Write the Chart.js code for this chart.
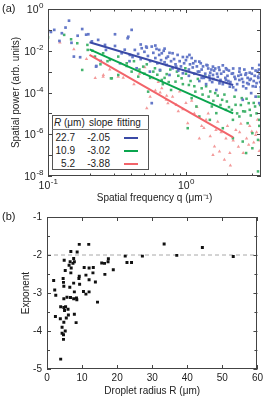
<!DOCTYPE html>
<html>
<head>
<meta charset="utf-8">
<script src="https://cdn.jsdelivr.net/npm/chart.js@4.4.0/dist/chart.umd.min.js"></script>
<style>
body{margin:0;background:#fff;font-family:"Liberation Sans",Arial,sans-serif;color:#222}
#wrap{position:relative;width:266px;height:397px;overflow:hidden}
canvas{position:absolute;left:0}
.tag{position:absolute;left:2px;font-size:11px;z-index:2}
#tbl{position:absolute;left:52px;top:115px;width:95px;height:53px;border:1px solid #555;background:#fff;z-index:2}
.t{position:absolute;font-size:10px;line-height:12px;white-space:nowrap;z-index:3}
.sw{position:absolute;height:2px;z-index:3}
</style>
</head>
<body>
<div id="wrap">
  <canvas id="chartA" width="266" height="206" style="top:0"></canvas>
  <canvas id="chartB" width="266" height="191" style="top:206px"></canvas>
  <div class="tag" style="top:2px">(a)</div>
  <div class="tag" style="top:210px">(b)</div>
  <div id="tbl"></div>
</div>
<script>
// (a) spatial power spectra: [q (um^-1), log10 power]
var bluePts = [
  [0.100,-1.04],[0.105,-1.10],[0.111,-1.00],[0.121,-1.53],[0.126,-1.16],[0.134,-0.89],[0.142,-0.56],[0.148,-1.62],
  [0.154,-2.28],[0.164,-1.28],[0.171,-2.31],[0.177,-0.96],[0.189,-1.23],[0.196,-1.21],[0.208,-1.55],[0.223,-2.76],
  [0.224,-2.73],[0.231,-1.48],[0.241,-2.49],[0.259,-1.72],[0.263,-1.96],[0.306,-1.21],[0.306,-1.77],[0.333,-2.60],
  [0.342,-2.12],[0.36,-1.95],[0.378,-1.40],[0.382,-1.33],[0.39,-2.50],[0.392,-2.20],[0.404,-1.00],[0.41,-2.30],
  [0.426,-1.96],[0.439,-2.84],[0.45,-2.15],[0.47,-2.40],[0.47,-1.70],[0.478,-1.88],[0.50,-2.05],[0.515,-1.80],
  [0.52,-1.85],[0.53,-2.25],[0.548,-3.00],[0.55,-2.50],[0.565,-1.80],[0.565,-4.51],[0.58,-2.10],[0.60,-2.35],
  [0.60,-1.75],[0.612,-1.91],[0.62,-2.60],[0.64,-2.20],[0.64,-1.96],[0.648,-2.92],[0.66,-2.45],[0.668,-2.12],
  [0.69,-2.00],[0.70,-2.55],[0.70,-1.90],[0.72,-2.35],[0.725,-2.68],[0.74,-2.28],[0.76,-2.10],[0.76,-3.16],
  [0.78,-2.50],[0.80,-2.84],[0.80,-2.12],[0.82,-2.40],[0.84,-2.65],[0.85,-2.76],[0.87,-2.20],[0.88,-2.95],
  [0.90,-2.50],[0.92,-2.75],[0.95,-2.30],[0.95,-3.08],[0.97,-2.60],[1.00,-2.45],[1.02,-2.30],[1.05,-2.90],
  [1.05,-3.20],[1.06,-2.20],[1.07,-2.65],[1.10,-2.35],[1.12,-2.80],[1.13,-2.60],[1.15,-3.10],[1.17,-2.50],
  [1.20,-2.75],[1.22,-3.00],[1.25,-2.52],[1.25,-3.00],[1.25,-3.45],[1.28,-2.60],[1.30,-2.90],[1.30,-3.30],
  [1.33,-2.75],[1.35,-3.30],[1.38,-3.10],[1.40,-3.60],[1.41,-2.68],[1.43,-2.70],[1.45,-2.85],[1.48,-3.20],
  [1.49,-3.40],[1.50,-3.05],[1.53,-2.90],[1.55,-3.50],[1.57,-2.76],[1.57,-3.16],[1.58,-3.35],[1.60,-2.95],
  [1.63,-2.85],[1.66,-3.88],[1.68,-3.10],[1.70,-3.25],[1.73,-2.80],[1.75,-2.92],[1.75,-3.56],[1.78,-3.40],
  [1.80,-3.10],[1.85,-2.70],[1.85,-3.60],[1.88,-3.00],[1.93,-3.30],[1.95,-2.84],[1.95,-3.40],[1.98,-2.90],
  [2.00,-3.20],[2.03,-3.45],[2.05,-2.95],[2.08,-3.72],[2.10,-3.50],[2.15,-3.10],[2.19,-3.08],[2.20,-2.85],
  [2.20,-3.75],[2.25,-3.25],[2.28,-3.35],[2.30,-3.88],[2.35,-3.60],[2.40,-3.20],[2.44,-3.00],[2.44,-3.40],
  [2.45,-2.85],[2.50,-3.15],[2.55,-3.35],[2.58,-4.35],[2.60,-3.50],[2.60,-3.70],[2.65,-2.90],[2.70,-3.15],
  [2.73,-3.08],[2.73,-3.80],[2.78,-3.55],[2.80,-3.30],[2.85,-3.60],[2.90,-3.40],[2.90,-3.05],[2.95,-3.35],
  [2.97,-4.03],[3.00,-3.10],[3.03,-2.84],[3.05,-3.70],[3.10,-3.45],[3.15,-3.20],[3.20,-3.72],[3.20,-4.20],
  [3.20,-2.95],[3.25,-3.55],[3.30,-3.00],[3.33,-3.24],[3.35,-3.30],[3.38,-2.90],[3.40,-2.68],[3.40,-4.51],
  [3.42,-3.10],[3.45,-3.50],[3.48,-3.75],[3.50,-3.90]
];
var greenPts = [
  [0.100,-1.36],[0.131,-1.24],[0.147,-1.45],[0.163,-1.64],[0.177,-2.92],[0.193,-1.72],[0.194,-1.96],[0.21,-2.00],
  [0.219,-2.28],[0.24,-2.65],[0.251,-2.12],[0.27,-2.50],[0.281,-2.44],[0.286,-3.32],[0.29,-3.32],[0.323,-2.28],
  [0.323,-3.16],[0.372,-2.60],[0.372,-2.73],[0.404,-3.00],[0.42,-2.50],[0.451,-3.24],[0.46,-2.90],[0.49,-2.76],
  [0.50,-3.10],[0.52,-2.65],[0.532,-3.96],[0.55,-3.30],[0.58,-3.00],[0.596,-2.84],[0.62,-3.15],[0.65,-2.95],
  [0.668,-3.40],[0.68,-3.60],[0.70,-3.30],[0.725,-3.12],[0.75,-3.50],[0.77,-2.90],[0.78,-3.88],[0.84,-3.48],
  [0.86,-3.00],[0.88,-3.20],[0.93,-3.32],[0.95,-3.60],[0.99,-2.84],[1.00,-3.10],[1.03,-5.71],[1.05,-3.64],
  [1.08,-3.45],[1.10,-4.27],[1.15,-3.70],[1.17,-3.96],[1.19,-4.67],[1.22,-3.35],[1.25,-5.15],[1.30,-3.80],
  [1.32,-4.10],[1.38,-3.24],[1.40,-3.70],[1.46,-4.20],[1.49,-5.31],[1.50,-3.95],[1.54,-4.67],[1.58,-4.40],
  [1.63,-4.03],[1.66,-4.99],[1.70,-4.15],[1.78,-4.60],[1.83,-4.35],[1.85,-5.71],[1.90,-4.10],[1.95,-4.83],
  [1.98,-4.43],[2.05,-4.70],[2.15,-4.83],[2.19,-5.31],[2.19,-6.19],[2.25,-4.20],[2.29,-4.59],[2.35,-5.00],
  [2.44,-5.15],[2.50,-4.60],[2.54,-4.27],[2.58,-6.35],[2.60,-4.90],[2.68,-4.91],[2.73,-6.90],[2.75,-4.30],
  [2.80,-5.47],[2.85,-4.51],[2.90,-4.83],[2.95,-5.10],[3.03,-5.95],[3.03,-6.67],[3.10,-4.50],[3.17,-4.67],
  [3.25,-5.00],[3.33,-6.27],[3.33,-7.78],[3.36,-4.20],[3.40,-5.31],[3.40,-5.60],[3.45,-4.60]
];
var redPts = [
  [0.122,-1.61],[0.154,-1.93],[0.19,-2.40],[0.22,-3.30],[0.251,-3.24],[0.252,-3.16],[0.28,-2.90],[0.323,-3.24],
  [0.351,-3.29],[0.42,-3.60],[0.46,-3.10],[0.503,-2.79],[0.52,-4.75],[0.55,-4.20],[0.58,-3.32],[0.60,-3.90],
  [0.63,-3.50],[0.65,-4.00],[0.668,-3.80],[0.72,-4.35],[0.725,-4.16],[0.74,-4.51],[0.80,-4.20],[0.85,-4.60],
  [0.88,-4.90],[0.90,-3.95],[0.95,-4.80],[1.00,-4.50],[1.03,-5.47],[1.10,-4.40],[1.15,-5.00],[1.20,-4.70],
  [1.25,-6.20],[1.30,-5.60],[1.35,-5.70],[1.40,-5.31],[1.45,-5.00],[1.50,-6.10],[1.57,-6.99],[1.61,-6.59],
  [1.65,-5.80],[1.70,-5.40],[1.75,-6.83],[1.80,-5.90],[1.90,-7.22],[1.95,-6.20],[2.00,-5.60],[2.08,-6.90],
  [2.10,-7.50],[2.20,-6.30],[2.30,-5.80],[2.40,-6.60],[2.45,-5.90],[2.50,-5.50],[2.60,-6.90],[2.75,-6.20],
  [2.85,-6.50],[2.90,-5.60],[3.00,-5.87],[3.10,-6.40],[3.20,-6.03],[3.25,-5.90],[3.30,-5.30],[3.40,-6.80],
  [3.45,-6.30],[3.50,-5.55]
];
// fitted power laws, drawn between two q values
var fitQ = [0.2, 2.2];
var fitBlue = [2.55e-2, 2.3e-4];
var fitGreen = [1.17e-2, 1.0e-5];
var fitRed = [6.3e-3, 7.0e-7];
// table in panel (a)
var radii = ['22.7', '10.9', '5.2'];
var slopes = ['-2.05', '-3.02', '-3.88'];
var fitColors = ['#3a4aa6', '#0aa54e', '#f2646a'];
var qTicks = [0.1, 0.2, 0.3, 0.4, 0.5, 0.6, 0.7, 0.8, 0.9, 1, 2, 3];
var qLabelled = [0.1, 1];
var pTicks = [1e-8, 1e-7, 1e-6, 1e-5, 1e-4, 1e-3, 1e-2, 1e-1, 1];
var pLabelled = [1e-8, 1e-6, 1e-4, 1e-2, 1];

// (b) exponent vs droplet radius
var dropR = [
  9.2, 11.9, 6.8, 8.6, 4.9, 6.6, 7.6, 7.8, 6.3, 7.4, 5.2, 6.8, 6.9, 10.6, 12.0, 13.2,
  15.6, 16.4, 17.5, 17.4, 18.9, 16.5, 13.1, 9.2, 9.1, 11.1, 1.9, 4.6, 4.7, 7.6, 9.3, 12.0,
  13.8, 4.8, 6.5, 2.2, 22.3, 22.8, 24.1, 27.2, 33.4, 37.0, 44.3, 53.1, 2.5, 7.8, 10.4, 11.1,
  12.0, 5.7, 4.8, 6.7, 7.6, 8.4, 8.5, 14.4, 3.9, 4.8, 5.3, 6.0, 5.0, 2.4, 3.8, 6.1,
  7.8, 5.5, 4.8, 8.3, 4.3, 5.2, 4.3, 4.7, 4.7, 3.9
];
var dropExp = [
  -1.72, -1.72, -1.91, -1.92, -2.14, -2.18, -2.09, -2.18, -2.27, -2.22, -2.41, -2.47, -2.34, -2.33, -2.34, -2.33,
  -2.21, -2.22, -2.10, -2.18, -2.39, -2.51, -2.47, -2.56, -2.62, -2.53, -2.67, -2.62, -2.72, -2.74, -2.77, -2.65,
  -2.71, -2.82, -2.85, -2.92, -2.03, -2.20, -2.20, -2.03, -1.71, -2.01, -1.80, -2.04, -3.06, -2.97, -2.96, -3.03,
  -2.97, -3.11, -3.15, -3.12, -3.15, -3.13, -3.18, -3.24, -3.36, -3.38, -3.36, -3.43, -3.46, -3.62, -3.68, -3.58,
  -3.56, -3.66, -3.77, -3.78, -3.90, -4.00, -4.06, -4.10, -4.22, -4.74
];
var refR = [0, 60];
var refExp = [-2, -2];

var FONT = "'Liberation Sans', Arial, sans-serif";
Chart.defaults.font.family = FONT;
Chart.defaults.font.size = 10;
Chart.defaults.color = '#222';
Chart.defaults.animation = false;

function isIn(list, v) {
  return list.some(function(w) { return Math.abs(w - v) < v * 1e-6; });
}

// box frame with inward ticks on all four sides
function frameTicks(xMajor, yMajor) {
  return {
    id: 'frameTicks',
    afterDatasetsDraw: function(chart) {
      var ctx = chart.ctx, a = chart.chartArea;
      ctx.save();
      ctx.strokeStyle = '#444';
      ctx.lineWidth = 1;
      ctx.beginPath();
      chart.scales.x.ticks.forEach(function(t) {
        var p = Math.round(chart.scales.x.getPixelForValue(t.value)) + 0.5;
        var len = xMajor(t.value) ? 4 : 2.5;
        ctx.moveTo(p, a.bottom); ctx.lineTo(p, a.bottom - len);
        ctx.moveTo(p, a.top); ctx.lineTo(p, a.top + len);
      });
      chart.scales.y.ticks.forEach(function(t) {
        var p = Math.round(chart.scales.y.getPixelForValue(t.value)) + 0.5;
        var len = yMajor(t.value) ? 4 : 3;
        ctx.moveTo(a.left, p); ctx.lineTo(a.left + len, p);
        ctx.moveTo(a.right, p); ctx.lineTo(a.right - len, p);
      });
      ctx.stroke();
      ctx.strokeRect(Math.round(a.left) + 0.5, Math.round(a.top) + 0.5,
        Math.round(a.right - a.left) - 1, Math.round(a.bottom - a.top) - 1);
      ctx.restore();
    }
  };
}

// powers of ten written as 10 with a raised exponent
var powLabels = {
  id: 'powLabels',
  afterDraw: function(chart) {
    var ctx = chart.ctx, a = chart.chartArea;
    function label(e, xRef, yBase, anchor) {
      ctx.font = '10.5px ' + FONT;
      var wb = ctx.measureText('10').width;
      ctx.font = '8px ' + FONT;
      var we = ctx.measureText(String(e)).width;
      var x0 = anchor === 'right' ? xRef - wb - we : xRef - (wb + we) / 2;
      ctx.font = '10.5px ' + FONT;
      ctx.fillText('10', x0, yBase);
      ctx.font = '8px ' + FONT;
      ctx.fillText(String(e), x0 + wb + 0.5, yBase - 5);
    }
    ctx.save();
    ctx.fillStyle = '#222';
    ctx.textBaseline = 'alphabetic';
    ctx.textAlign = 'left';
    chart.scales.x.ticks.forEach(function(t) {
      if (!isIn(qLabelled, t.value)) return;
      label(Math.round(Math.log10(t.value)), chart.scales.x.getPixelForValue(t.value), a.bottom + 13, 'center');
    });
    chart.scales.y.ticks.forEach(function(t) {
      if (!isIn(pLabelled, t.value)) return;
      label(Math.round(Math.log10(t.value)), a.left - 5, chart.scales.y.getPixelForValue(t.value) + 4, 'right');
    });
    ctx.restore();
  }
};

function toXY(pts) {
  return pts.map(function(p) { return {x: p[0], y: Math.pow(10, p[1])}; });
}
function fitLine(vals, color) {
  return {
    data: fitQ.map(function(q, i) { return {x: q, y: vals[i]}; }),
    showLine: true, borderColor: color, borderWidth: 2, pointRadius: 0
  };
}

new Chart(document.getElementById('chartA'), {
  type: 'scatter',
  data: {
    datasets: [
      fitLine(fitBlue, fitColors[0]),
      fitLine(fitGreen, fitColors[1]),
      fitLine(fitRed, fitColors[2]),
      {data: toXY(bluePts), pointStyle: 'rect', pointRadius: 1.9, pointBorderWidth: 0, backgroundColor: '#6478c8'},
      {data: toXY(greenPts), pointStyle: 'rect', pointRadius: 1.8, pointBorderWidth: 0, backgroundColor: '#45b46e'},
      {data: toXY(redPts), pointStyle: 'triangle', pointRadius: 2, pointBorderWidth: 0, backgroundColor: '#f39a9a'}
    ]
  },
  options: {
    responsive: false,
    layout: {padding: {left: 0, right: 5, top: 9, bottom: 0}},
    plugins: {legend: {display: false}, tooltip: {enabled: false}},
    scales: {
      x: {
        type: 'logarithmic', min: 0.1, max: 3.5,
        afterBuildTicks: function(s) { s.ticks = qTicks.map(function(v) { return {value: v}; }); },
        afterFit: function(s) { s.height = 30; },
        grid: {display: false, drawTicks: false},
        border: {display: false},
        ticks: {display: false},
        title: {display: true, text: 'Spatial frequency q (\u03bcm\u207b\u00b9)', padding: {top: 0, bottom: 2}}
      },
      y: {
        type: 'logarithmic', min: 1e-8, max: 1,
        afterBuildTicks: function(s) { s.ticks = pTicks.map(function(v) { return {value: v}; }); },
        afterFit: function(s) { s.width = 48; },
        grid: {display: false, drawTicks: false},
        border: {display: false},
        ticks: {display: false},
        title: {display: true, text: 'Spatial power (arb. units)', padding: {top: 10, bottom: 0}}
      }
    }
  },
  plugins: [
    frameTicks(function(v) { return isIn(qLabelled, v); }, function() { return true; }),
    powLabels
  ]
});

new Chart(document.getElementById('chartB'), {
  type: 'scatter',
  data: {
    datasets: [
      {data: dropR.map(function(r, i) { return {x: r, y: dropExp[i]}; }),
        pointStyle: 'rect', pointRadius: 2.1, pointBorderWidth: 0, backgroundColor: '#111'},
      {data: refR.map(function(r, i) { return {x: r, y: refExp[i]}; }),
        showLine: true, borderColor: '#a8a8a8', borderWidth: 1, borderDash: [4, 3], pointRadius: 0}
    ]
  },
  options: {
    responsive: false,
    layout: {padding: {left: 0, right: 5, top: 11, bottom: 0}},
    plugins: {legend: {display: false}, tooltip: {enabled: false}},
    scales: {
      x: {
        min: 0, max: 60,
        afterFit: function(s) { s.height = 28; },
        grid: {display: false, drawTicks: false},
        border: {display: false},
        ticks: {stepSize: 10, maxRotation: 0, padding: 3},
        title: {display: true, text: 'Droplet radius R (\u03bcm)', padding: {top: 0, bottom: 0}}
      },
      y: {
        min: -5, max: -1,
        afterFit: function(s) { s.width = 47; },
        grid: {display: false, drawTicks: false},
        border: {display: false},
        ticks: {
          stepSize: 0.5, autoSkip: false, padding: 5,
          callback: function(v) { return Number.isInteger(v) ? String(v) : ''; }
        },
        title: {display: true, text: 'Exponent', padding: {top: 20, bottom: 0}}
      }
    }
  },
  plugins: [frameTicks(function() { return true; }, function(v) { return Number.isInteger(v); })]
});

// table overlay in panel (a)
var wrap = document.getElementById('wrap');
function put(html, left, top, align) {
  var d = document.createElement('div');
  d.className = 't';
  d.innerHTML = html;
  d.style.top = (top - 6) + 'px';
  if (align === 'right') { d.style.right = (266 - left) + 'px'; } else { d.style.left = left + 'px'; }
  wrap.appendChild(d);
}
put('<i>R</i> (\u03bcm)', 54, 123);
put('slope', 89, 123);
put('fitting', 117, 123);
var sep = document.createElement('div');
sep.className = 'sw';
sep.style.cssText += 'left:52px;top:129px;width:97px;height:1px;background:#777';
wrap.appendChild(sep);
radii.forEach(function(r, i) {
  var y = 137.5 + i * 13;
  put(r, 75, y, 'right');
  put(slopes[i], 110, y, 'right');
  var s = document.createElement('div');
  s.className = 'sw';
  s.style.left = '124px';
  s.style.width = '14px';
  s.style.top = (y - 1) + 'px';
  s.style.background = fitColors[i];
  wrap.appendChild(s);
});
</script>
</body>
</html>
